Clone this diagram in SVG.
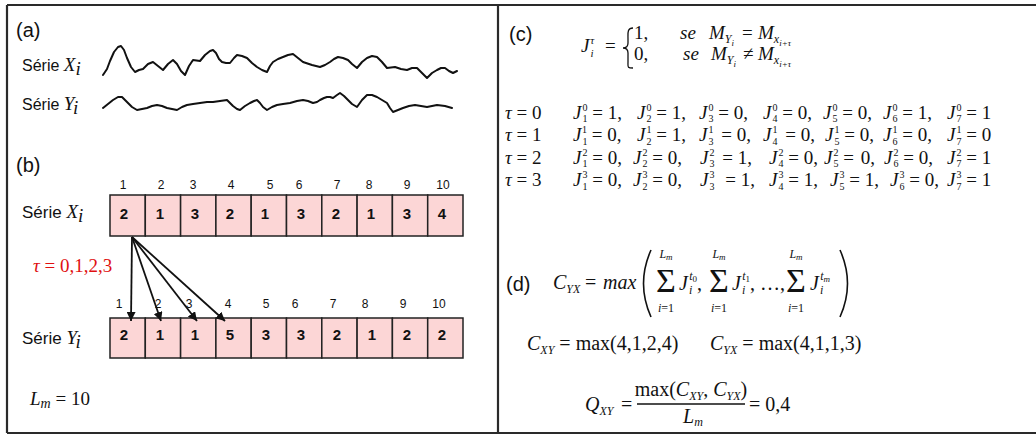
<svg xmlns="http://www.w3.org/2000/svg" width="1036" height="437" viewBox="0 0 1036 437">
<style>
.sans{font-family:"Liberation Sans",Arial,sans-serif;fill:#111}
.lbl{font-size:20px}
.eq{font-family:"Liberation Serif","Times New Roman",serif;font-size:19px;fill:#111}
.i{font-style:italic}
.sb{font-size:12px}
.ss{font-size:9px}
.rs{font-size:10px}
.cs{font-size:11px}
.box{fill:#fcd6d6;stroke:#222;stroke-width:1.5}
.dg{font-family:"Liberation Sans",Arial,sans-serif;font-size:15px;font-weight:bold;fill:#111;text-anchor:middle}
.ix{font-family:"Liberation Sans",Arial,sans-serif;font-size:12px;fill:#111;text-anchor:middle}
.wave{fill:none;stroke:#111;stroke-width:2;stroke-linejoin:round;stroke-linecap:round}
.frame{fill:none;stroke:#2a2a2a;stroke-width:2.2}
.arr{stroke:#111;stroke-width:1.8;fill:none;marker-end:url(#ah)}
.big{font-size:34px}
.lim{font-size:12px;text-anchor:middle}
.d20{font-size:20px}
</style>
<defs>
<marker id="ah" viewBox="0 0 10 10" refX="10" refY="5" markerUnits="userSpaceOnUse" markerWidth="9" markerHeight="9" orient="auto">
<path d="M0,0 L10,5 L0,10 z" fill="#111"/>
</marker>
</defs>
<rect width="1036" height="437" fill="#fff"/>
<g id="frame">
<path class="frame" d="M7,5 H1036"/>
<path class="frame" d="M7,5 V433"/>
<path class="frame" d="M7,433 H1036"/>
<path class="frame" d="M498,5 V433"/>
</g>

<g id="panel-a">
<text class="sans lbl" x="16" y="37">(a)</text>
<text class="sans" x="22" y="71" font-size="16">Série <tspan class="eq i" font-size="18">X</tspan><tspan class="eq i" font-size="12" dy="4">i</tspan></text>
<text class="sans" x="22" y="110" font-size="16">Série <tspan class="eq i" font-size="18">Y</tspan><tspan class="eq i" font-size="12" dy="4">i</tspan></text>
<polyline class="wave" points="103,75 107,69 110,61 114,52 118,47 121,46 124,50 127,58 131,67 135,72 139,70 143,69 148,64 153,62 158,66 163,70 168,64 173,60 177,64 181,71 185,75 189,66 193,60 200,61 205,55 210,51 213,50 216,53 219,59 222,62 226,63 230,63 234,58 237,55 242,56 247,58 252,63 257,67 262,70 267,72 270,66 273,62 278,59 283,57 288,55 293,54 298,58 303,62 312,65 320,67 325,65 330,62 334,59 338,57 343,58 348,60 352,64 357,68 362,62 367,58 372,56 377,57 382,62 387,68 395,67 401,69 407,70 412,68 417,68 422,73 427,78 432,73 437,70 441,68 445,68 449,71 453,73 457,71"/>
<polyline class="wave" points="103,108 108,104 113,100 118,97 122,97 125,100 128,103 132,107 137,110 142,109 147,108 152,106 157,105 162,106 167,108 172,109 177,110 182,107 187,105 193,104 200,103 207,102 213,102 220,101 227,100 230,103 233,106 237,109 240,110 245,106 250,103 254,101 257,100 260,103 263,107 267,110 272,107 277,105 283,104 290,103 297,101 303,100 308,101 313,103 317,102 320,100 324,98 327,97 330,97 333,98 337,95 340,93 344,96 348,100 352,104 357,107 362,100 367,95 372,95 377,97 382,100 387,103 390,108 393,112 398,110 403,108 409,106 415,105 421,106 427,107 432,106 437,105 445,106 452,108"/>
</g>

<g id="panel-b">
<text class="sans lbl" x="16" y="172">(b)</text>
<text class="sans" x="22" y="218" font-size="17">Série <tspan class="eq i" font-size="19">X</tspan><tspan class="eq i" font-size="12" dy="4">i</tspan></text>
<text class="sans" x="22" y="344" font-size="17">Série <tspan class="eq i" font-size="19">Y</tspan><tspan class="eq i" font-size="12" dy="4">i</tspan></text>
<g id="seriesX">
<rect class="box" x="110" y="195" width="35.3" height="41"/>
<rect class="box" x="145.3" y="195" width="35.3" height="41"/>
<rect class="box" x="180.6" y="195" width="35.3" height="41"/>
<rect class="box" x="215.9" y="195" width="35.3" height="41"/>
<rect class="box" x="251.2" y="195" width="35.3" height="41"/>
<rect class="box" x="286.5" y="195" width="35.3" height="41"/>
<rect class="box" x="321.8" y="195" width="35.3" height="41"/>
<rect class="box" x="357.1" y="195" width="35.3" height="41"/>
<rect class="box" x="392.4" y="195" width="35.3" height="41"/>
<rect class="box" x="427.7" y="195" width="35.3" height="41"/>
<text class="dg" x="124" y="219">2</text>
<text class="dg" x="160" y="219">1</text>
<text class="dg" x="195" y="219">3</text>
<text class="dg" x="230" y="219">2</text>
<text class="dg" x="265" y="219">1</text>
<text class="dg" x="301" y="219">3</text>
<text class="dg" x="336" y="219">2</text>
<text class="dg" x="371" y="219">1</text>
<text class="dg" x="407" y="219">3</text>
<text class="dg" x="442" y="219">4</text>
<text class="ix" x="123" y="189">1</text>
<text class="ix" x="161" y="189">2</text>
<text class="ix" x="193" y="189">3</text>
<text class="ix" x="231" y="189">4</text>
<text class="ix" x="270" y="189">5</text>
<text class="ix" x="299" y="189">6</text>
<text class="ix" x="337" y="189">7</text>
<text class="ix" x="369" y="189">8</text>
<text class="ix" x="407" y="189">9</text>
<text class="ix" x="443" y="189">10</text>
</g>
<g id="seriesY">
<rect class="box" x="110" y="318" width="35.3" height="40"/>
<rect class="box" x="145.3" y="318" width="35.3" height="40"/>
<rect class="box" x="180.6" y="318" width="35.3" height="40"/>
<rect class="box" x="215.9" y="318" width="35.3" height="40"/>
<rect class="box" x="251.2" y="318" width="35.3" height="40"/>
<rect class="box" x="286.5" y="318" width="35.3" height="40"/>
<rect class="box" x="321.8" y="318" width="35.3" height="40"/>
<rect class="box" x="357.1" y="318" width="35.3" height="40"/>
<rect class="box" x="392.4" y="318" width="35.3" height="40"/>
<rect class="box" x="427.7" y="318" width="35.3" height="40"/>
<text class="dg" x="124" y="340">2</text>
<text class="dg" x="160" y="340">1</text>
<text class="dg" x="195" y="340">1</text>
<text class="dg" x="230" y="340">5</text>
<text class="dg" x="266" y="340">3</text>
<text class="dg" x="301" y="340">3</text>
<text class="dg" x="337" y="340">2</text>
<text class="dg" x="372" y="340">1</text>
<text class="dg" x="407" y="340">2</text>
<text class="dg" x="442" y="340">2</text>
<text class="ix" x="119" y="308">1</text>
<text class="ix" x="158" y="308">2</text>
<text class="ix" x="189" y="308">3</text>
<text class="ix" x="228" y="308">4</text>
<text class="ix" x="266" y="308">5</text>
<text class="ix" x="295" y="308">6</text>
<text class="ix" x="333" y="308">7</text>
<text class="ix" x="365" y="308">8</text>
<text class="ix" x="403" y="308">9</text>
<text class="ix" x="439" y="308">10</text>
</g>
<g id="connectors">
<line class="arr" x1="132" y1="237" x2="131" y2="321"/>
<line class="arr" x1="132" y1="237" x2="161" y2="321"/>
<line class="arr" x1="132" y1="237" x2="197" y2="321"/>
<line class="arr" x1="132" y1="237" x2="225" y2="321"/>
</g>
<text class="eq" x="33" y="272" font-size="20" style="fill:#e01010"><tspan class="i">τ</tspan> = 0,1,2,3</text>
<text class="eq" x="30" y="405" font-size="20"><tspan class="i">L</tspan><tspan class="i" font-size="14" dy="3">m</tspan><tspan dy="-3"> = 10</tspan></text>
</g>

<g id="panel-c">
<text class="sans lbl" x="509" y="41">(c)</text>
<text class="eq" x="581" y="52"><tspan class="i">J</tspan><tspan class="cs i" dx="1" dy="4.5">i</tspan><tspan class="cs i" dx="-3.2" dy="-12.5">τ</tspan><tspan dy="8" x="605">=</tspan></text>
<path d="M633,28 C627,28 628,33 628,39 L628,43 C628,47 626,48 623,48 C626,48 628,49 628,53 L628,62 C628,67 627,68 633,68" fill="none" stroke="#111" stroke-width="1.3"/>
<text class="eq" x="634" y="39">1,</text>
<text class="eq" x="634" y="60">0,</text>
<text class="eq" x="680" y="39"><tspan class="i">se</tspan><tspan x="709" class="i">M</tspan><tspan class="sb i" dy="4">Y</tspan><tspan class="ss i" dy="3">i</tspan><tspan x="742" dy="-7">=</tspan><tspan x="758" class="i">M</tspan><tspan class="sb i" dy="4">x</tspan><tspan class="ss i" dy="3">i+τ</tspan></text>
<text class="eq" x="683" y="60"><tspan class="i">se</tspan><tspan x="711" class="i">M</tspan><tspan class="sb i" dy="4">Y</tspan><tspan class="ss i" dy="3">i</tspan><tspan x="743" dy="-7">≠</tspan><tspan x="758" class="i">M</tspan><tspan class="sb i" dy="4">x</tspan><tspan class="ss i" dy="3">i+τ</tspan></text>

<text class="eq" x="505" y="118.5"><tspan class="i">τ</tspan> = 0</text>
<text class="eq" x="505" y="141"><tspan class="i">τ</tspan> = 1</text>
<text class="eq" x="505" y="163.5"><tspan class="i">τ</tspan> = 2</text>
<text class="eq" x="505" y="186"><tspan class="i">τ</tspan> = 3</text>

<text class="eq" x="573" y="118.5"><tspan class="i">J</tspan><tspan class="rs" dx="1" dy="3.5">1</tspan><tspan class="rs" dx="-5" dy="-11.1">0</tspan><tspan dy="7.6"> = 1,</tspan></text>
<text class="eq" x="637" y="118.5"><tspan class="i">J</tspan><tspan class="rs" dx="1" dy="3.5">2</tspan><tspan class="rs" dx="-5" dy="-11.1">0</tspan><tspan dy="7.6"> = 1,</tspan></text>
<text class="eq" x="699" y="118.5"><tspan class="i">J</tspan><tspan class="rs" dx="1" dy="3.5">3</tspan><tspan class="rs" dx="-5" dy="-11.1">0</tspan><tspan dy="7.6"> = 0,</tspan></text>
<text class="eq" x="763" y="118.5"><tspan class="i">J</tspan><tspan class="rs" dx="1" dy="3.5">4</tspan><tspan class="rs" dx="-5" dy="-11.1">0</tspan><tspan dy="7.6"> = 0,</tspan></text>
<text class="eq" x="823" y="118.5"><tspan class="i">J</tspan><tspan class="rs" dx="1" dy="3.5">5</tspan><tspan class="rs" dx="-5" dy="-11.1">0</tspan><tspan dy="7.6"> = 0,</tspan></text>
<text class="eq" x="883" y="118.5"><tspan class="i">J</tspan><tspan class="rs" dx="1" dy="3.5">6</tspan><tspan class="rs" dx="-5" dy="-11.1">0</tspan><tspan dy="7.6"> = 1,</tspan></text>
<text class="eq" x="947" y="118.5"><tspan class="i">J</tspan><tspan class="rs" dx="1" dy="3.5">7</tspan><tspan class="rs" dx="-5" dy="-11.1">0</tspan><tspan dy="7.6"> = 1</tspan></text>

<text class="eq" x="573" y="141"><tspan class="i">J</tspan><tspan class="rs" dx="1" dy="3.5">1</tspan><tspan class="rs" dx="-5" dy="-11.1">1</tspan><tspan dy="7.6"> = 0,</tspan></text>
<text class="eq" x="637" y="141"><tspan class="i">J</tspan><tspan class="rs" dx="1" dy="3.5">2</tspan><tspan class="rs" dx="-5" dy="-11.1">1</tspan><tspan dy="7.6"> = 1,</tspan></text>
<text class="eq" x="699" y="141"><tspan class="i">J</tspan><tspan class="rs" dx="1" dy="3.5">3</tspan><tspan class="rs" dx="-5" dy="-11.1">1</tspan><tspan dy="7.6" dx="3"> = 0,</tspan></text>
<text class="eq" x="763" y="141"><tspan class="i">J</tspan><tspan class="rs" dx="1" dy="3.5">4</tspan><tspan class="rs" dx="-5" dy="-11.1">1</tspan><tspan dy="7.6" dx="3"> = 0,</tspan></text>
<text class="eq" x="825" y="141"><tspan class="i">J</tspan><tspan class="rs" dx="1" dy="3.5">5</tspan><tspan class="rs" dx="-5" dy="-11.1">1</tspan><tspan dy="7.6"> = 0,</tspan></text>
<text class="eq" x="883" y="141"><tspan class="i">J</tspan><tspan class="rs" dx="1" dy="3.5">6</tspan><tspan class="rs" dx="-5" dy="-11.1">1</tspan><tspan dy="7.6"> = 0,</tspan></text>
<text class="eq" x="947" y="141"><tspan class="i">J</tspan><tspan class="rs" dx="1" dy="3.5">7</tspan><tspan class="rs" dx="-5" dy="-11.1">1</tspan><tspan dy="7.6"> = 0</tspan></text>

<text class="eq" x="573" y="163.5"><tspan class="i">J</tspan><tspan class="rs" dx="1" dy="3.5">1</tspan><tspan class="rs" dx="-5" dy="-11.1">2</tspan><tspan dy="7.6"> = 0,</tspan></text>
<text class="eq" x="633" y="163.5"><tspan class="i">J</tspan><tspan class="rs" dx="1" dy="3.5">2</tspan><tspan class="rs" dx="-5" dy="-11.1">2</tspan><tspan dy="7.6"> = 0,</tspan></text>
<text class="eq" x="700" y="163.5"><tspan class="i">J</tspan><tspan class="rs" dx="1" dy="3.5">3</tspan><tspan class="rs" dx="-5" dy="-11.1">2</tspan><tspan dy="7.6" dx="3"> = 1,</tspan></text>
<text class="eq" x="769" y="163.5"><tspan class="i">J</tspan><tspan class="rs" dx="1" dy="3.5">4</tspan><tspan class="rs" dx="-5" dy="-11.1">2</tspan><tspan dy="7.6"> = 0,</tspan></text>
<text class="eq" x="824" y="163.5"><tspan class="i">J</tspan><tspan class="rs" dx="1" dy="3.5">5</tspan><tspan class="rs" dx="-5" dy="-11.1">2</tspan><tspan dy="7.6"> = </tspan><tspan dx="2">0,</tspan></text>
<text class="eq" x="884" y="163.5"><tspan class="i">J</tspan><tspan class="rs" dx="1" dy="3.5">6</tspan><tspan class="rs" dx="-5" dy="-11.1">2</tspan><tspan dy="7.6"> = 0,</tspan></text>
<text class="eq" x="947" y="163.5"><tspan class="i">J</tspan><tspan class="rs" dx="1" dy="3.5">7</tspan><tspan class="rs" dx="-5" dy="-11.1">2</tspan><tspan dy="7.6"> = 1</tspan></text>

<text class="eq" x="573" y="186"><tspan class="i">J</tspan><tspan class="rs" dx="1" dy="3.5">1</tspan><tspan class="rs" dx="-5" dy="-11.1">3</tspan><tspan dy="7.6"> = 0,</tspan></text>
<text class="eq" x="633" y="186"><tspan class="i">J</tspan><tspan class="rs" dx="1" dy="3.5">2</tspan><tspan class="rs" dx="-5" dy="-11.1">3</tspan><tspan dy="7.6"> = 0,</tspan></text>
<text class="eq" x="700" y="186"><tspan class="i">J</tspan><tspan class="rs" dx="1" dy="3.5">3</tspan><tspan class="rs" dx="-5" dy="-11.1">3</tspan><tspan dy="7.6" dx="6"> = 1,</tspan></text>
<text class="eq" x="769" y="186"><tspan class="i">J</tspan><tspan class="rs" dx="1" dy="3.5">4</tspan><tspan class="rs" dx="-5" dy="-11.1">3</tspan><tspan dy="7.6"> = 1,</tspan></text>
<text class="eq" x="830" y="186"><tspan class="i">J</tspan><tspan class="rs" dx="1" dy="3.5">5</tspan><tspan class="rs" dx="-5" dy="-11.1">3</tspan><tspan dy="7.6"> = 1,</tspan></text>
<text class="eq" x="890" y="186"><tspan class="i">J</tspan><tspan class="rs" dx="1" dy="3.5">6</tspan><tspan class="rs" dx="-5" dy="-11.1">3</tspan><tspan dy="7.6"> = 0,</tspan></text>
<text class="eq" x="947" y="186"><tspan class="i">J</tspan><tspan class="rs" dx="1" dy="3.5">7</tspan><tspan class="rs" dx="-5" dy="-11.1">3</tspan><tspan dy="7.6"> = 1</tspan></text>
</g>

<g id="panel-d">
<text class="sans lbl" x="506" y="291">(d)</text>
<text class="eq d20" x="553" y="289"><tspan class="i">C</tspan><tspan class="sb i" dy="4">YX</tspan><tspan x="585" dy="-4">=</tspan><tspan x="603" class="i">max</tspan></text>
<path d="M651,250 Q636,283.5 651,317" fill="none" stroke="#111" stroke-width="1.6"/>
<path d="M840,250 Q855,283.5 840,317" fill="none" stroke="#111" stroke-width="1.6"/>
<text class="eq big" x="656" y="292">Σ</text>
<text class="eq lim" x="666" y="258"><tspan class="i">L</tspan><tspan class="i" font-size="9" dy="2">m</tspan></text>
<text class="eq lim" x="666" y="312"><tspan class="i">i</tspan>=1</text>
<text class="eq d20" x="679" y="290"><tspan class="i">J</tspan><tspan class="sb i" dx="1" dy="4">i</tspan><tspan class="sb i" dx="-3" dy="-14">t</tspan><tspan class="ss" dy="2">0</tspan><tspan dy="8">,</tspan></text>
<text class="eq big" x="709" y="292">Σ</text>
<text class="eq lim" x="719" y="258"><tspan class="i">L</tspan><tspan class="i" font-size="9" dy="2">m</tspan></text>
<text class="eq lim" x="719" y="312"><tspan class="i">i</tspan>=1</text>
<text class="eq d20" x="732" y="290"><tspan class="i">J</tspan><tspan class="sb i" dx="1" dy="4">i</tspan><tspan class="sb i" dx="-3" dy="-14">t</tspan><tspan class="ss" dy="2">1</tspan><tspan dy="8">, …,</tspan></text>
<text class="eq big" x="786" y="292">Σ</text>
<text class="eq lim" x="796" y="258"><tspan class="i">L</tspan><tspan class="i" font-size="9" dy="2">m</tspan></text>
<text class="eq lim" x="796" y="312"><tspan class="i">i</tspan>=1</text>
<text class="eq d20" x="810" y="290"><tspan class="i">J</tspan><tspan class="sb i" dx="1" dy="4">i</tspan><tspan class="sb i" dx="-3" dy="-14">t</tspan><tspan class="ss i" dy="2">m</tspan></text>

<text class="eq d20" x="527" y="350"><tspan class="i">C</tspan><tspan class="sb i" dy="4">XY</tspan><tspan dy="-4"> = max(4,1,2,4)</tspan></text>
<text class="eq d20" x="710" y="350"><tspan class="i">C</tspan><tspan class="sb i" dy="4">YX</tspan><tspan dy="-4"> = max(4,1,1,3)</tspan></text>

<text class="eq d20" x="585" y="411"><tspan class="i">Q</tspan><tspan class="sb i" dy="4">XY</tspan><tspan x="621" dy="-4">=</tspan></text>
<text class="eq d20" x="691" y="396" text-anchor="middle">max(<tspan class="i">C</tspan><tspan class="sb i" dy="4">XY</tspan><tspan dy="-4">, </tspan><tspan class="i">C</tspan><tspan class="sb i" dy="4">YX</tspan><tspan dy="-4">)</tspan></text>
<line x1="637" y1="404" x2="745" y2="404" stroke="#111" stroke-width="1.3"/>
<text class="eq d20" x="683" y="423"><tspan class="i">L</tspan><tspan class="sb i" dy="3">m</tspan></text>
<text class="eq d20" x="749" y="411">= 0,4</text>
</g>
</svg>
